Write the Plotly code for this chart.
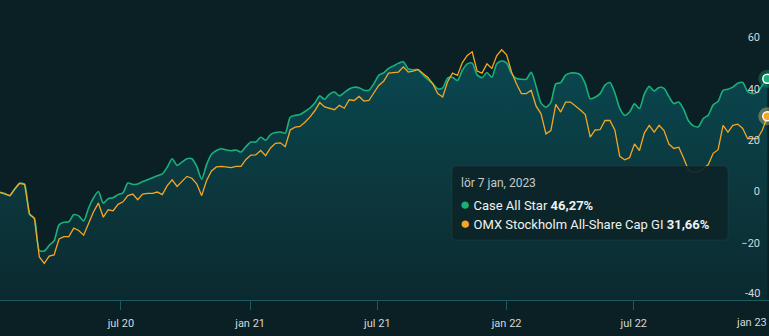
import plotly.graph_objects as go
import pandas as pd

# ---------------- data (weekly, cumulative return in %) ----------------
START_DATE = "2020-01-11"
case_all_star = [
    2.0, 1.5, 0.7, 3.3, 5.5, 5.1, -6.5, -8.2, -20.7, -20.9,
    -18.7, -16.9, -10.7, -9.7, -9.5, -6.7, -7.2, -9.2, -4.2, -0.2,
    2.3, -2.2, -0.5, -0.1, 1.1, 1.8, 5.6, 5.1, 5.2, 6.2,
    6.9, 7.7, 8.5, 9.2, 11.8, 15.1, 12.5, 13.8, 15.1, 15.1,
    12.1, 7.1, 12.8, 16.8, 18.3, 19.0, 18.5, 18.2, 18.5, 17.7,
    19.8, 21.6, 21.6, 23.5, 22.3, 24.5, 25.3, 25.5, 25.1, 31.3,
    32.0, 32.3, 33.5, 34.8, 36.8, 39.6, 38.3, 40.3, 41.1, 39.6,
    40.9, 42.3, 43.0, 42.8, 41.8, 41.8, 44.3, 47.6, 48.6, 50.3,
    51.3, 52.3, 52.9, 50.1, 49.8, 49.8, 47.8, 46.0, 44.3, 42.4,
    42.7, 46.5, 46.9, 45.6, 49.6, 52.1, 52.4, 47.8, 46.7, 48.7,
    46.9, 52.1, 53.2, 52.4, 48.3, 46.4, 46.1, 46.1, 48.8, 43.3,
    36.8, 35.2, 37.1, 44.3, 44.8, 47.7, 48.5, 48.5, 47.8, 44.3,
    38.5, 39.1, 40.5, 43.8, 44.8, 40.8, 34.7, 32.0, 33.3, 36.5,
    34.7, 40.3, 43.3, 41.5, 42.9, 42.5, 39.3, 36.6, 37.2, 34.3,
    29.8, 27.9, 27.6, 30.8, 32.1, 36.1, 37.5, 41.8, 42.2, 43.0,
    44.5, 44.8, 41.3, 40.5, 41.1, 43.8, 46.27,
]
omx_stockholm = [
    2.0, 1.4, 0.7, 3.3, 5.5, 5.1, -6.5, -8.2, -23.2, -25.7,
    -22.9, -22.4, -16.2, -15.3, -15.3, -12.0, -12.9, -14.7, -10.5, -5.7,
    -2.2, -7.7, -4.8, -5.2, -2.7, -1.7, 0.7, 1.3, -0.9, 1.3,
    1.6, 1.6, 2.1, 1.1, 4.6, 6.9, 4.3, 6.3, 8.2, 7.5,
    5.3, 0.7, 6.6, 10.3, 11.9, 12.1, 11.8, 11.6, 12.1, 12.1,
    14.8, 16.5, 16.6, 18.3, 16.3, 19.3, 21.1, 21.3, 19.8, 26.3,
    27.4, 27.7, 29.3, 31.3, 33.8, 37.0, 35.3, 34.6, 34.2, 35.9,
    34.8, 38.1, 37.8, 39.4, 37.6, 37.8, 40.9, 43.7, 45.3, 48.5,
    48.7, 48.9, 50.9, 48.9, 49.3, 49.9, 48.3, 46.8, 44.3, 40.5,
    39.2, 45.1, 48.5, 47.6, 52.6, 55.4, 56.8, 49.3, 48.5, 52.1,
    50.3, 55.3, 57.6, 55.6, 48.9, 44.3, 40.5, 40.5, 41.8, 35.6,
    32.6, 24.8, 26.1, 36.3, 33.3, 37.2, 37.2, 35.8, 34.1, 32.3,
    23.5, 26.3, 26.4, 30.0, 30.0, 26.3, 16.0, 14.7, 15.5, 20.9,
    18.3, 25.1, 28.1, 25.5, 28.1, 26.1, 20.8, 19.1, 19.6, 15.3,
    10.5, 9.8, 10.1, 11.2, 12.8, 17.2, 18.6, 28.1, 25.5, 28.1,
    28.6, 26.9, 22.9, 22.9, 22.9, 26.3, 31.66,
]
series_names = ["Case All Star", "OMX Stockholm All-Share Cap GI"]
x_tick_dates = ["2020-07-01", "2021-01-01", "2021-07-01", "2022-01-01", "2022-07-01", "2023-01-01"]
x_tick_text = ["jul 20", "jan 21", "jul 21", "jan 22", "jul 22", ""]
last_tick_label = "jan 23"
y_tick_vals = [-20, 0, 20, 40, 60]
bottom_tick_value = -40
tooltip_date = "lör 7 jan, 2023"
tooltip_values = ["46,27%", "31,66%"]

Y_MIN, Y_MAX = -40, 77
X_RANGE = ["2020-01-11", "2023-01-09 10:00"]

# ---------------- style ----------------
BG = "#0a2024"
GREEN = "#19b07c"
ORANGE = "#f5a623"
AXIS = "#1b5a60"
LABEL = "#d2d9d9"

dates = pd.date_range(START_DATE, periods=len(case_all_star), freq="7D")

fig = go.Figure()
# invisible floor so the green area fills down to the axis bottom
fig.add_trace(go.Scatter(x=dates, y=[Y_MIN] * len(dates), mode="lines",
                         line=dict(width=0, color="rgba(0,0,0,0)"),
                         hoverinfo="skip", showlegend=False))
fig.add_trace(go.Scatter(
    x=dates, y=case_all_star, mode="lines", name=series_names[0],
    line=dict(color=GREEN, width=1.6, shape="spline", smoothing=0.7),
    fill="tonexty",
    fillgradient=dict(type="vertical",
                      colorscale=[[0, "#0b2a2f"], [0.55, "#0b3a40"], [1, "#0a4750"]]),
    hoverinfo="skip", showlegend=False))
fig.add_trace(go.Scatter(
    x=dates, y=omx_stockholm, mode="lines", name=series_names[1],
    line=dict(color=ORANGE, width=1.3),
    hoverinfo="skip", showlegend=False))

# hover markers at last point
for vals, col, halo in [(case_all_star, GREEN, "rgba(25,176,124,0.35)"),
                        (omx_stockholm, ORANGE, "rgba(245,215,120,0.35)")]:
    fig.add_trace(go.Scatter(x=[dates[-1]], y=[vals[-1]], mode="markers",
                             marker=dict(size=18, color=halo, line=dict(width=0)),
                             hoverinfo="skip", showlegend=False))
    fig.add_trace(go.Scatter(x=[dates[-1]], y=[vals[-1]], mode="markers",
                             marker=dict(size=9, color=col, line=dict(width=1.5, color="white")),
                             hoverinfo="skip", showlegend=False))

W, H = 769, 300  # plot area in px


def px(xp):
    return xp / W


def py(yp):
    return 1 - yp / H


# tooltip box (rounded)
x0, x1, y0, y1, r = 452, 728, 166, 240, 5
path = (f"M {px(x0+r)},{py(y0)} L {px(x1-r)},{py(y0)} Q {px(x1)},{py(y0)} {px(x1)},{py(y0+r)} "
        f"L {px(x1)},{py(y1-r)} Q {px(x1)},{py(y1)} {px(x1-r)},{py(y1)} "
        f"L {px(x0+r)},{py(y1)} Q {px(x0)},{py(y1)} {px(x0)},{py(y1-r)} "
        f"L {px(x0)},{py(y0+r)} Q {px(x0)},{py(y0)} {px(x0+r)},{py(y0)} Z")
fig.add_shape(type="path", path=path, xref="paper", yref="paper", layer="above",
              fillcolor="rgba(11,36,40,0.9)", line=dict(color="rgba(255,255,255,0.05)", width=1))

fig.add_annotation(xref="paper", yref="paper", x=px(459), y=py(183), xanchor="left", yanchor="middle",
                   text=tooltip_date, showarrow=False,
                   font=dict(family="Roboto", size=12, color="#c3cbcb"))
for i, (name, val, col) in enumerate(zip(series_names, tooltip_values, [GREEN, ORANGE])):
    yy = [203.5, 223][i]
    fig.add_annotation(xref="paper", yref="paper", x=px(458), y=py(yy), xanchor="left", yanchor="middle",
                       text=(f"<span style='color:{col};font-size:17px'>●</span>"
                             f" {name} <b>{val}</b>"), showarrow=False,
                       font=dict(family="Roboto", size=13, color="#eef2f2"))

# last x label, kept inside the chart
fig.add_annotation(xref="paper", yref="paper", x=1, y=py(322), xanchor="right", yanchor="middle",
                   text=last_tick_label, showarrow=False,
                   font=dict(family="Roboto", size=11, color=LABEL))
# bottom y label (sits just above the axis floor)
fig.add_annotation(xref="paper", yref="y", x=px(762), y=bottom_tick_value, xanchor="right",
                   yanchor="middle", yshift=7, text=str(bottom_tick_value), showarrow=False,
                   font=dict(family="Roboto", size=11, color=LABEL))

fig.update_layout(
    width=769, height=336,
    margin=dict(l=0, r=0, t=0, b=36),
    paper_bgcolor=BG, plot_bgcolor=BG,
    hovermode=False,
    xaxis=dict(type="date", range=X_RANGE, tickvals=x_tick_dates, ticktext=x_tick_text,
               showgrid=False, zeroline=False, showline=True, linecolor=AXIS, linewidth=1,
               ticks="outside", ticklen=9, tickcolor=AXIS, tickwidth=1,
               tickfont=dict(family="Roboto", size=11, color=LABEL), ticklabelstandoff=4),
    yaxis=dict(range=[Y_MIN, Y_MAX], side="right", tickvals=y_tick_vals,
               ticklabelposition="inside", ticklabelshift=-6, ticklabelstandoff=6,
               showgrid=False, zeroline=False, showline=False, ticks="",
               tickfont=dict(family="Roboto", size=11, color=LABEL)),
)

fig.write_html("out.html")
